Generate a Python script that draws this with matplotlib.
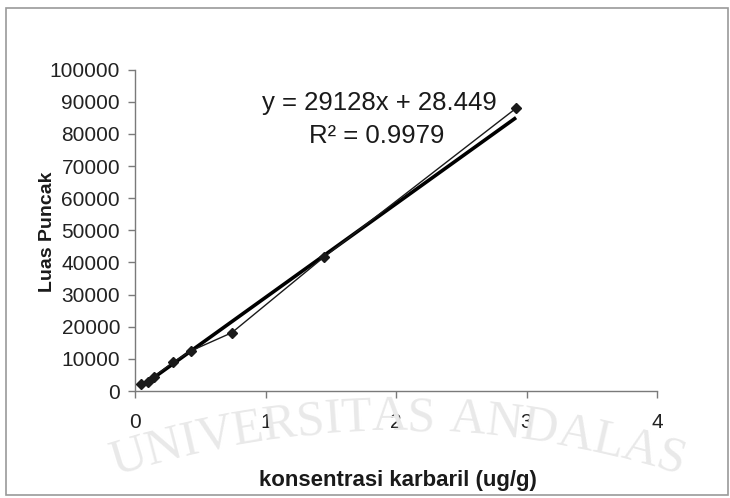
import numpy as np
import matplotlib
matplotlib.use("Agg")
import matplotlib.pyplot as plt
from matplotlib.patches import Rectangle

# values
konsentrasi = [0.04, 0.10, 0.14, 0.29, 0.43, 0.74, 1.45, 2.92]
luas_puncak = [2200, 2900, 4400, 8930, 12540, 18140, 41800, 88000]
slope, intercept = 29128, 28.449
eq_text = "y = 29128x + 28.449"
r2_text = "R² = 0.9979"
x_ticks = [0, 1, 2, 3, 4]
y_ticks = list(range(0, 100001, 10000))
watermark = "UNIVERSITAS ANDALAS"

W, H = 730, 498
plt.rcParams["font.family"] = ["Liberation Sans", "DejaVu Sans"]
fig = plt.figure(figsize=(W / 100, H / 100), dpi=100)

# outer chart border
fig.patches.append(Rectangle((6 / W, 3 / H), (W - 8) / W, (H - 11) / H, transform=fig.transFigure,
                             fill=False, edgecolor="#9a9a9a", lw=1.2, zorder=0))

# faint arched watermark behind the chart
widths = {"U": .722, "N": .722, "I": .333, "V": .722, "E": .611, "R": .667, "S": .556,
          "T": .611, "A": .722, "D": .722, "L": .611, " ": .30}
em = 50.0
cx, cy, rad = 398.0, 418 + 925.0, 925.0
total = sum(widths[c] for c in watermark) * em
pos = -total / 2
for ch in watermark:
    w = widths[ch] * em
    s = pos + w / 2
    pos += w
    if ch == " ":
        continue
    th = s / rad
    px = cx + rad * np.sin(th)
    py = cy - rad * np.cos(th)
    fig.text(px / W, 1 - py / H, ch, family="Liberation Serif", fontsize=36, color="#e9e9e9",
             ha="center", va="center", rotation=-np.degrees(th), rotation_mode="anchor", zorder=0)

ax = fig.add_axes([135.3 / W, 1 - 391 / H, (656.9 - 135.3) / W, (391 - 69.7) / H])
ax.patch.set_alpha(0)

xs = np.array([min(konsentrasi), max(konsentrasi)])
ax.plot(xs, slope * xs + intercept, color="black", lw=2.6, solid_capstyle="butt", zorder=3)
ax.plot(konsentrasi, luas_puncak, color="#1a1a1a", lw=1.0, marker="D", ms=5.5,
        mfc="#1a1a1a", mec="#1a1a1a", zorder=4)

ax.set_xlim(0, 4)
ax.set_ylim(0, 100000)
ax.set_xticks(x_ticks)
ax.set_yticks(y_ticks)
ax.set_xticklabels([str(t) for t in x_ticks])
ax.set_yticklabels([str(t) for t in y_ticks])
for side in ("top", "right"):
    ax.spines[side].set_visible(False)
for side in ("left", "bottom"):
    ax.spines[side].set_color("#7a7a7a")
    ax.spines[side].set_linewidth(1.0)
ax.tick_params(axis="both", colors="#7a7a7a", labelcolor="#222222", length=5, width=1.0,
               direction="out", labelsize=15)
ax.tick_params(axis="x", pad=11)
ax.tick_params(axis="y", pad=6)

# equation block, placed in axes fractions
xspan, yspan = 656.9 - 135.3, 391 - 69.7
ax.text((262 - 135.3) / xspan, (391 - 103) / yspan, eq_text, transform=ax.transAxes,
        fontsize=18.5, color="#1a1a1a", ha="left", va="center")
ax.text((309 - 135.3) / xspan, (391 - 136) / yspan, r2_text, transform=ax.transAxes,
        fontsize=18.5, color="#1a1a1a", ha="left", va="center")

fig.text(47 / W, 1 - 232 / H, "Luas Puncak", rotation=90, fontsize=14, fontweight="bold",
         color="#1a1a1a", ha="center", va="center")
fig.text(398 / W, 1 - 480 / H, "konsentrasi karbaril (ug/g)", fontsize=16, fontweight="bold",
         color="#1a1a1a", ha="center", va="center")

fig.savefig("out.png", dpi=100, facecolor="white")
